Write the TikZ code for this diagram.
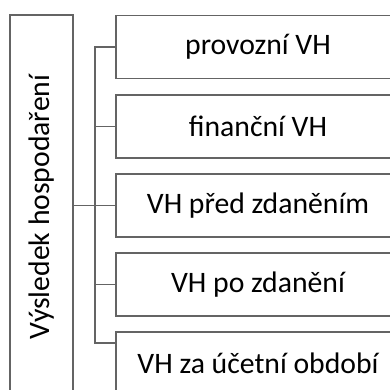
\documentclass[tikz,border=0pt]{standalone}
\usepackage{fontspec}
\setmainfont{Carlito}
\definecolor{edge}{RGB}{100,100,100}
\tikzset{
  box/.style={draw=edge, line width=1.1pt, rectangle, inner sep=0pt, minimum width=284pt, minimum height=63pt, font=\fontsize{29.7}{35}\selectfont},
  conn/.style={draw=edge, line width=1.1pt}
}
\begin{document}
\begin{tikzpicture}[x=1pt,y=1pt]
\useasboundingbox (0,0) rectangle (390,389);
\clip (0,0) rectangle (390,389);
\node[box, minimum width=63pt, minimum height=381pt] (L) at (41.5,183.5) {};
\node[rotate=90, font=\fontsize{29.7}{35}\selectfont] (Lt) at (41.5,182) {Výsledek hospodaření};
\node[box] (b1) at (258,342) {provozní VH};
\node[box] (b2) at (258,262.5) {finanční VH};
\node[box] (b3) at (258,183.5) {VH před zdaněním};
\node[box] (b4) at (258,104.5) {VH po zdanění};
\node[box] (b5) at (258,25.5) {VH za účetní období};
\coordinate (j5) at (116,46);
\coordinate (bx) at (95,183.5);
\draw[conn] (L.east) -- (bx);
\draw[conn] (b1.west) -| (bx);
\draw[conn] (j5) -| (bx);
\draw[conn] (b2.west) -- (b2.west -| bx);
\draw[conn] (b4.west) -- (b4.west -| bx);
\draw[conn] (bx) -- (b3.west);
\end{tikzpicture}
\end{document}
